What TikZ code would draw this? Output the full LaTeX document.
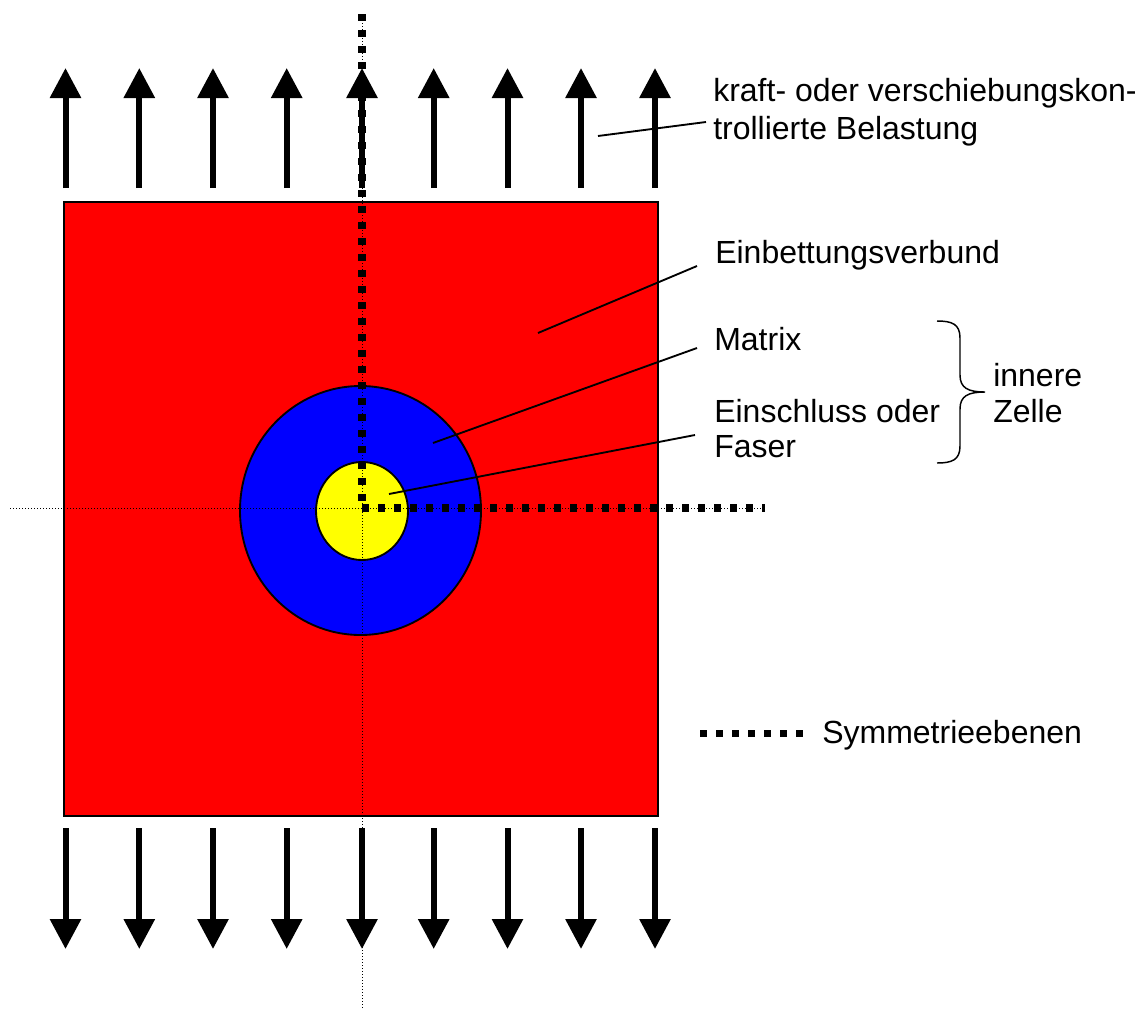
\documentclass[tikz,border=0pt]{standalone}
\usepackage{fontspec}
\setmainfont{Liberation Sans}
\usetikzlibrary{arrows.meta}
\definecolor{matred}{RGB}{255,0,0}
\definecolor{matblue}{RGB}{0,0,255}
\definecolor{matyellow}{RGB}{255,255,0}
\begin{document}
\begin{tikzpicture}[x=0.75pt,y=-0.75pt,
  lbl/.style={anchor=base west, inner sep=0pt, font=\fontsize{24}{28.5}\selectfont},
  leader/.style={line width=1.4pt},
  load/.style={line width=4.5pt, -{Triangle[width=22.5pt,length=22.5pt]}},
  symline/.style={line width=5.4pt, dash pattern=on 5.4pt off 6.6pt},
  axisline/.style={line width=0.75pt, dash pattern=on 0.75pt off 1.5pt},
  outline/.style={line width=1.4pt, draw=black}
]
\useasboundingbox (0,0) rectangle (1145,1010);
\fill[white] (0,0) rectangle (1145,1010);

% body
\draw[outline, fill=matred] (64,202) rectangle (658,816);
\draw[outline, fill=matblue] (360.5,510.5) ellipse [x radius=90.375pt, y radius=93.375pt];
\draw[outline, fill=matyellow] (362,511) ellipse [x radius=34.5pt, y radius=36.75pt];

% thin axis lines
\coordinate (axT) at (362,14);
\coordinate (axB) at (362,1010);
\coordinate (axL) at (10,508);
\coordinate (axR) at (765,508);
\draw[axisline] (axT) -- (axB);
\draw[axisline] (axL) -- (axR);

% load arrows
\foreach \i/\x in {1/65.5,2/139.3,3/213,4/286.7,5/362,6/433.7,7/507.5,8/581,9/655}{
  \coordinate (ts\i) at (\x,188);
  \coordinate (te\i) at (\x,68);
  \coordinate (bs\i) at (\x,828);
  \coordinate (be\i) at (\x,949);
  \draw[load] (ts\i) -- (te\i);
  \draw[load] (bs\i) -- (be\i);
}

% symmetry planes
\coordinate (symT) at (362,14);
\coordinate (symC) at (362,508);
\draw[symline] (symT) -- (symC);
\draw[symline] (symC) -- (axR);

% labels
\node[lbl] (kraft1) at (713,101) {kraft- oder verschiebungskon-};
\node[lbl] (kraft2) at (713,139) {trollierte Belastung};
\node[lbl] (einb) at (715,263) {Einbettungsverbund};
\node[lbl] (matrix) at (714,350) {Matrix};
\node[lbl] (einsch1) at (714,422) {Einschluss oder};
\node[lbl] (einsch2) at (714,457) {Faser};
\node[lbl] (inn1) at (993,386) {innere};
\node[lbl] (inn2) at (993,422) {Zelle};
\node[lbl] (sym) at (822,743) {Symmetrieebenen};

% leader lines
\coordinate (lk0) at (598,136);
\coordinate (lk1) at (706,122);
\coordinate (le0) at (538,333);
\coordinate (le1) at (697,266);
\coordinate (lm0) at (433,443);
\coordinate (lm1) at (697,348);
\coordinate (lf0) at (389,494);
\coordinate (lf1) at (695,435);
\draw[leader] (lk0) -- (lk1);
\draw[leader] (le0) -- (le1);
\draw[leader] (lm0) -- (lm1);
\draw[leader] (lf0) -- (lf1);

% brace
\draw[line width=1.1pt] (937,321) .. controls (952,321) and (960,324) .. (960,338)
  -- (960,375) .. controls (960,388) and (968,392) .. (985,392)
  .. controls (968,392) and (960,396) .. (960,409)
  -- (960,446) .. controls (960,460) and (952,463) .. (937,463);

% legend
\coordinate (lg0) at (700,733.5);
\coordinate (lg1) at (803,733.5);
\draw[symline] (lg0) -- (lg1);
\end{tikzpicture}
\end{document}
